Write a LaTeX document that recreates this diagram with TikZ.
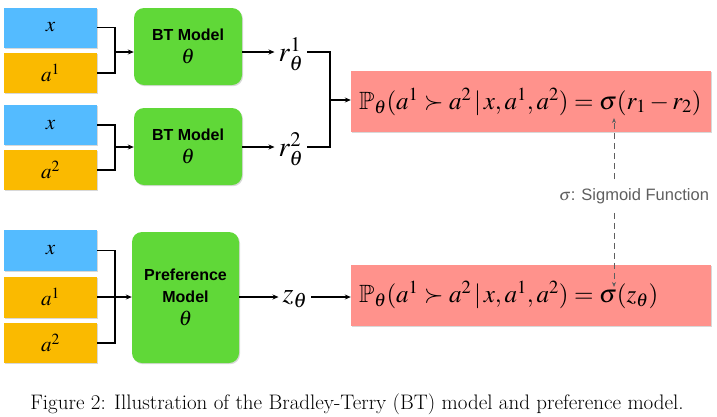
\documentclass[tikz,border=0pt]{standalone}
\usepackage{amssymb}
\usepackage{mathptmx}
\usepackage{fontspec}
\newfontfamily\arialf{Liberation Sans}
\usetikzlibrary{shadows,arrows.meta,calc}
\definecolor{cblue}{RGB}{84,187,255}
\definecolor{corange}{RGB}{250,186,0}
\definecolor{cgreen}{RGB}{96,216,56}
\definecolor{cpink}{RGB}{255,146,140}
\definecolor{cgray}{RGB}{95,95,95}
\newcommand{\thetabig}{{\mdseries\fontsize{21}{22}\selectfont$\theta$}}
\tikzset{
  shad/.style={drop shadow={shadow xshift=1pt,shadow yshift=-1.2pt,opacity=.25,fill=black!60}},
  inbox/.style={shad,minimum width=93,minimum height=40,inner sep=0,font=\fontsize{21}{24}\selectfont},
  model/.style={shad,fill=cgreen,rounded corners=10pt,minimum width=108,minimum height=77,inner sep=0,align=center,font=\arialf\bfseries\fontsize{16}{22}\selectfont},
  rlab/.style={inner sep=4pt,font=\fontsize{28}{30}\selectfont},
  pbox/.style={shad,fill=cpink,minimum height=61,text width=344,inner xsep=8pt,align=left,font=\fontsize{25}{27}\selectfont},
  conn/.style={line width=1.1pt},
  arr/.style={conn,-{Stealth[length=6pt,width=5pt]}},
  dashln/.style={cgray,line width=1pt,dash pattern=on 6pt off 4pt,-{Stealth[length=5pt,width=4pt]}},
}
\begin{document}
\begin{tikzpicture}[x=1pt,y=-1pt]
\fill[white] (0,0) rectangle (717,416);
\useasboundingbox (0,0) rectangle (717,416);
% top inputs
\node[inbox,fill=cblue] (x1) at (50.5,27.5) {$x$};
\node[inbox,fill=corange] (a1) at (50.5,73) {$a^1$};
\node[inbox,fill=cblue] (x2) at (50.5,125) {$x$};
\node[inbox,fill=corange] (a2) at (50.5,170) {$a^2$};
\node[model] (bt1) at (188,46.5) {BT Model\\[1pt]\thetabig};
\node[model] (bt2) at (188,146.5) {BT Model\\[1pt]\thetabig};
\node[rlab] (r1) at (291,54) {$r_\theta^1$};
\node[rlab] (r2) at (291,149) {$r_\theta^2$};
\coordinate (j1) at (115,52);
\coordinate (j2) at (115,147);
\draw[conn] (x1.east) -| (j1);
\draw[conn] (a1.east) -| (j1);
\draw[arr] (j1) -- (j1 -| bt1.west);
\draw[conn] (x2.east) -| (j2);
\draw[conn] (a2.east) -| (j2);
\draw[arr] (j2) -- (j2 -| bt2.west);
\draw[arr] (j1 -| bt1.east) -- (j1 -| r1.west);
\draw[arr] (j2 -| bt2.east) -- (j2 -| r2.west);
\node[pbox] (p1) at (531,101.5) {$\mathbb{P}_\theta(a^1 \succ a^2\,|\,x, a^1, a^2) = \sigma(r_1 - r_2)$};
\coordinate (j3) at (330,100);
\draw[conn] (j1 -| r1.east) -| (j3);
\draw[conn] (j2 -| r2.east) -| (j3);
\draw[arr] (j3) -- (j3 -| p1.west);
% bottom
\node[inbox,fill=cblue,minimum height=41] (x3) at (50.5,250.5) {$x$};
\node[inbox,fill=corange,minimum height=41] (a3) at (50.5,297) {$a^1$};
\node[inbox,fill=corange] (a4) at (50.5,343) {$a^2$};
\node[model,minimum width=107,minimum height=131] (pm) at (185.5,297.5) {Preference\\Model\\[1pt]\thetabig};
\node[rlab] (z) at (295,299) {$z_\theta$};
\coordinate (j4) at (115,297);
\draw[conn] (x3.east) -| (j4);
\draw[conn] (a4.east) -| (j4);
\draw[arr] (a3.east) -- (a3.east -| pm.west);
\draw[arr] (a3.east -| pm.east) -- (a3.east -| z.west);
\node[pbox] (p2) at (531,295) {$\mathbb{P}_\theta(a^1 \succ a^2\,|\,x, a^1, a^2) = \sigma(z_\theta)$};
\draw[arr] (a3.east -| z.east) -- (a3.east -| p2.west);
% sigmoid
\node[cgray,inner xsep=0,inner ysep=9pt,font=\fontsize{16.5}{18}\selectfont] (sig) at (634,196) {$\sigma$\arialf: Sigmoid Function};
\coordinate (s1) at (614,118);
\coordinate (s2) at (614,287);
\draw[dashln] (sig.north -| s1) -- (s1);
\draw[dashln] (sig.south -| s2) -- (s2);
% caption
\node[font=\fontfamily{lmr}\fontsize{21}{24}\selectfont] (cap) at (357,404) {Figure 2: Illustration of the Bradley-Terry (BT) model and preference model.};
\end{tikzpicture}
\end{document}
